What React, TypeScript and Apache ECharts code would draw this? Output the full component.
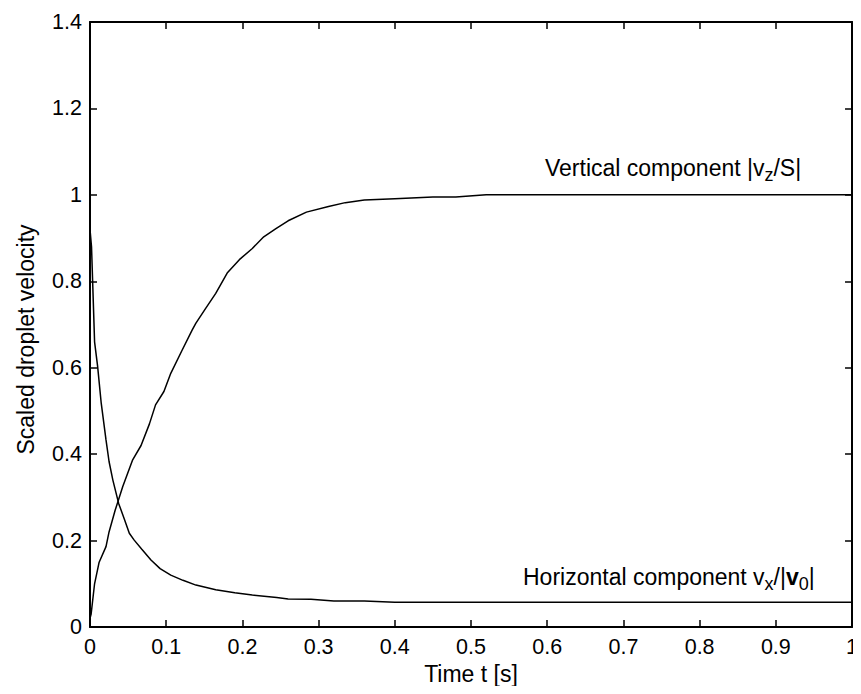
import React, { useEffect, useRef } from "react";
import * as echarts from "echarts";

const vertT = [0, 0.0015, 0.006, 0.012, 0.021, 0.025, 0.033, 0.043, 0.056, 0.067, 0.078, 0.086, 0.097, 0.106, 0.121, 0.134, 0.139, 0.152, 0.165, 0.18, 0.196, 0.213, 0.228, 0.244, 0.26, 0.284, 0.313, 0.335, 0.36, 0.4, 0.45, 0.48, 0.52, 0.6, 0.7, 0.8, 0.9, 1.0];
const vertV = [0.02, 0.03, 0.10, 0.15, 0.186, 0.22, 0.27, 0.325, 0.387, 0.42, 0.47, 0.514, 0.545, 0.587, 0.641, 0.687, 0.703, 0.738, 0.772, 0.819, 0.85, 0.876, 0.903, 0.922, 0.94, 0.96, 0.973, 0.982, 0.988, 0.991, 0.995, 0.995, 1.0, 1.0, 1.0, 1.0, 1.0, 1.0];

const horT = [0, 0.002, 0.006, 0.010, 0.0146, 0.021, 0.025, 0.030, 0.0376, 0.045, 0.0516, 0.058, 0.068, 0.080, 0.092, 0.106, 0.122, 0.139, 0.165, 0.19, 0.213, 0.245, 0.26, 0.29, 0.32, 0.36, 0.4, 0.5, 0.6, 0.7, 0.8, 0.9, 1.0];
const horV = [0.92, 0.88, 0.66, 0.603, 0.52, 0.433, 0.383, 0.34, 0.286, 0.25, 0.217, 0.201, 0.18, 0.155, 0.135, 0.12, 0.108, 0.097, 0.086, 0.079, 0.074, 0.068, 0.065, 0.064, 0.06, 0.06, 0.057, 0.057, 0.057, 0.057, 0.057, 0.057, 0.057];

const xTicks = [0, 0.1, 0.2, 0.3, 0.4, 0.5, 0.6, 0.7, 0.8, 0.9, 1];
const yTicks = [0, 0.2, 0.4, 0.6, 0.8, 1, 1.2, 1.4];

const vertLabel = "Vertical component |v_z/S|";
const horLabel = "Horizontal component v_x/|v_0|";

const FONT = "Liberation Sans";

export default function App() {
  const ref = useRef<HTMLDivElement>(null);
  useEffect(() => {
    if (!ref.current) return;
    const chart = echarts.init(ref.current, null, { renderer: "svg" });
    const axisLine = { show: true, onZero: false, lineStyle: { color: "#000", width: 2 } };
    const tick = { show: true, inside: true, length: 7, lineStyle: { color: "#000", width: 1.5 } };
    const rich = {
      a: { fontSize: 23, fontFamily: FONT, color: "#000" },
      b: { fontSize: 23, fontFamily: FONT, color: "#000", fontWeight: "bold" },
      s: { fontSize: 18, fontFamily: FONT, color: "#000", padding: [14, 0, 0, 0] },
    };
    const fmt = (v: number) => String(+v.toFixed(1));
    chart.setOption({
      animation: false,
      backgroundColor: "#fff",
      grid: { left: 90, right: 5, top: 22, bottom: 67, containLabel: false },
      xAxis: [
        {
          type: "value", min: xTicks[0], max: xTicks[xTicks.length - 1], interval: 0.1, position: "bottom",
          axisLine, axisTick: tick, splitLine: { show: false },
          axisLabel: { fontSize: 21.5, fontFamily: FONT, color: "#000", margin: 9, formatter: fmt },
          name: "Time t [s]", nameLocation: "middle", nameGap: 32,
          nameTextStyle: { fontSize: 23, fontFamily: FONT, color: "#000" },
        },
        {
          type: "value", min: xTicks[0], max: xTicks[xTicks.length - 1], interval: 0.1, position: "top",
          axisLine, axisTick: tick, axisLabel: { show: false }, splitLine: { show: false },
        },
      ],
      yAxis: [
        {
          type: "value", min: yTicks[0], max: yTicks[yTicks.length - 1], interval: 0.2, position: "left",
          axisLine, axisTick: tick, splitLine: { show: false },
          axisLabel: { fontSize: 21.5, fontFamily: FONT, color: "#000", margin: 8, formatter: fmt },
          name: "Scaled droplet velocity", nameLocation: "middle", nameGap: 53,
          nameTextStyle: { fontSize: 23, fontFamily: FONT, color: "#000", padding: [0, 30, 0, 0] },
        },
        {
          type: "value", min: yTicks[0], max: yTicks[yTicks.length - 1], interval: 0.2, position: "right",
          axisLine, axisTick: tick, axisLabel: { show: false }, splitLine: { show: false },
        },
      ],
      series: [
        {
          type: "line", name: vertLabel, showSymbol: false, symbol: "none",
          data: vertT.map((t, i) => [t, vertV[i]]),
          lineStyle: { color: "#000", width: 1.5 },
        },
        {
          type: "line", name: horLabel, showSymbol: false, symbol: "none",
          data: horT.map((t, i) => [t, horV[i]]),
          lineStyle: { color: "#000", width: 1.5 },
        },
      ],
      graphic: [
        {
          type: "text", left: 545, top: 156,
          style: { text: "{a|Vertical component |v}{s|z}{a|/S|}", rich },
        },
        {
          type: "text", left: 523, top: 565,
          style: { text: "{a|Horizontal component v}{s|x}{a|/|}{b|v}{s|0}{a||}", rich },
        },
      ],
    });
    return () => chart.dispose();
  }, []);
  return <div ref={ref} style={{ width: 861, height: 694, margin: -8 }} />;
}
